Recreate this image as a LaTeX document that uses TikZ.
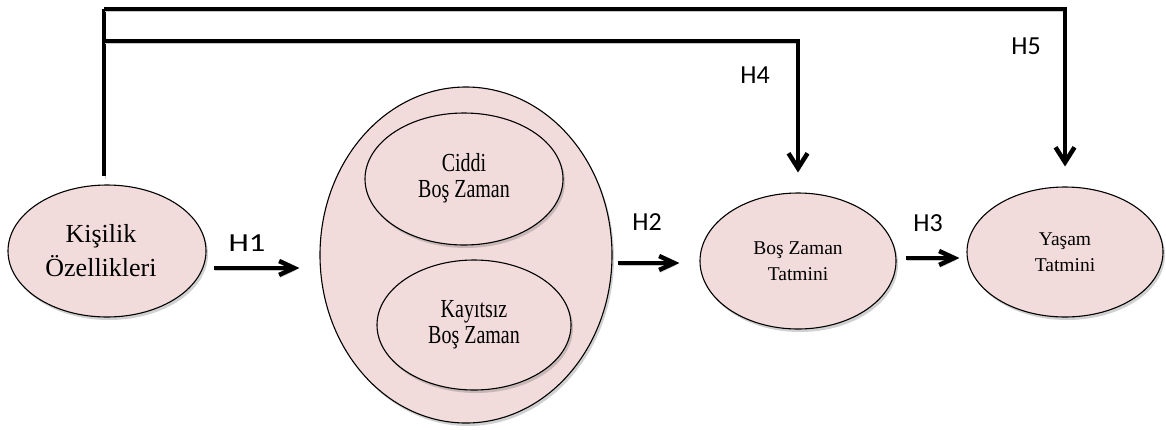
\documentclass[tikz,border=0pt]{standalone}
\usepackage{fontspec}
\usepackage{graphicx}
\newfontfamily\ellfont{Liberation Serif}
\newfontfamily\labfont{Carlito}
\usetikzlibrary{arrows.meta,shadows,shapes.geometric}
\definecolor{pinkfill}{HTML}{F2DCDB}
\newcommand{\stretchtext}[1]{\scalebox{1}[1.3]{\begin{tabular}{@{}c@{}}#1\end{tabular}}}
\begin{document}
\begin{tikzpicture}[x=1pt,y=-1pt,
  ell/.style={ellipse,draw=black,line width=1.1pt,fill=pinkfill,inner sep=0pt,
    drop shadow={shadow xshift=2pt,shadow yshift=-3pt,opacity=0.3,fill=black!60}},
  bigtxt/.style={font=\ellfont\fontsize{26pt}{34pt}\selectfont,align=center},
  smalltxt/.style={font=\ellfont\fontsize{19.5pt}{26pt}\selectfont,align=center},
  innertxt/.style={font=\ellfont\fontsize{20pt}{20pt}\selectfont},
  hlab/.style={font=\labfont\fontsize{26pt}{30pt}\selectfont,inner sep=0pt},
  lineshadow/.style={preaction={draw=black!22,transform canvas={xshift=1pt,yshift=-2.5pt}}},
  plainconn/.style={line width=4.5pt,line join=miter,lineshadow},
  vconn/.style={plainconn,-{Straight Barb[length=15pt,width=19pt,line width=4.5pt]}},
  hconn/.style={plainconn,-{Straight Barb[length=15pt,width=14pt,line width=4.5pt]}}
]
\useasboundingbox (0,0) rectangle (1166,429);

\node[ell,minimum width=198pt,minimum height=132pt,bigtxt] (kis) at (107,251) {\hspace*{-12pt}Kişilik\\\hspace*{-12pt}Özellikleri};
\node[ell,minimum width=292pt,minimum height=336pt] (big) at (466,255) {};
\node[ell,minimum width=198pt,minimum height=132pt,innertxt] (ciddi) at (464,179) {\stretchtext{Ciddi\\Boş Zaman}};
\node[ell,minimum width=194pt,minimum height=130pt,innertxt] (kay) at (474,325) {\stretchtext{Kayıtsız\\Boş Zaman}};
\node[ell,minimum width=196pt,minimum height=136pt,smalltxt] (bzt) at (798,261) {Boş Zaman\\Tatmini};
\node[ell,minimum width=196pt,minimum height=130pt,smalltxt] (yas) at (1065,252) {Yaşam\\Tatmini};

\coordinate (t1) at (104,9);
\coordinate (t2) at (104,41);

\draw[plainconn] ([xshift=-3pt,yshift=8pt]kis.north) -- (t1);
\draw[vconn] (t1) -| ([yshift=20pt]yas.north);
\draw[vconn] (t2) -| ([yshift=20pt]bzt.north);

\draw[hconn] ([xshift=7pt,yshift=-17pt]kis.east) -- ([xshift=-20pt,yshift=-13pt]big.west);
\draw[hconn] ([xshift=5pt,yshift=-8pt]big.east) -- ([xshift=-20pt,yshift=-2pt]bzt.west);
\draw[hconn] ([xshift=9pt,yshift=3pt]bzt.east) -- ([xshift=-7pt,yshift=-6pt]yas.west);

\node[hlab] (h1) at (247,243) {\scalebox{1.25}[1]{H1}};
\node[hlab] (h2) at (647,222) {H2};
\node[hlab] (h3) at (928,223) {H3};
\node[hlab] (h4) at (755,75) {H4};
\node[hlab] (h5) at (1026,46) {H5};
\end{tikzpicture}
\end{document}
